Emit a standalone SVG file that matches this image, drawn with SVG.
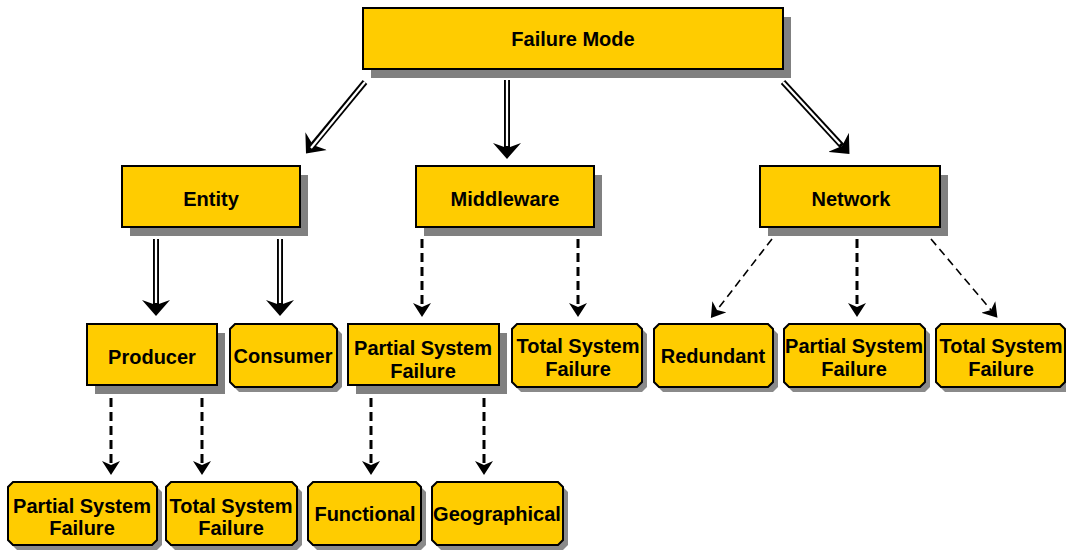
<svg xmlns="http://www.w3.org/2000/svg" width="1066" height="552" viewBox="0 0 1066 552">
  <style>
    .box { fill: #FFCC00; stroke: #000; stroke-width: 2; }
    .sh { fill: #808080; }
    .sh2 { fill: #8a8a8a; }
    .t { font-family: "Liberation Sans", Arial, sans-serif; font-weight: bold; font-size: 20px; fill: #000; text-anchor: middle; }
    .t2 { font-family: "Liberation Sans", Arial, sans-serif; font-weight: bold; font-size: 20px; fill: #000; text-anchor: middle; }
    .dbl-o { fill: none; stroke: #000; stroke-width: 6; }
    .dbl-i { fill: none; stroke: #fff; stroke-width: 2.2; }
    .dash { fill: none; stroke: #000; stroke-width: 3; stroke-dasharray: 9 5; }
    .dash-thin { fill: none; stroke: #000; stroke-width: 1.6; stroke-dasharray: 8 5; }
  </style>
  <defs>
    <marker id="headBig" markerUnits="userSpaceOnUse" markerWidth="18" markerHeight="28" viewBox="0 0 18 28" refX="5" refY="14" orient="auto">
      <path d="M0,0 L16,14 L0,28 L5,14 Z" fill="#000"/>
    </marker>
    <marker id="headSmall" markerUnits="userSpaceOnUse" markerWidth="14" markerHeight="18" viewBox="0 0 14 18" refX="4" refY="9" orient="auto">
      <path d="M0,0 L14,9 L0,18 L4,9 Z" fill="#000"/>
    </marker>
  </defs>

  <rect width="1066" height="552" fill="#fff"/>

  <!-- connectors -->
  <g id="connectors">
    <!-- root to level 2: double lines -->
    <path class="dbl-o" d="M365,82 L313,145" marker-end="url(#headBig)"/>
    <path class="dbl-i" d="M365,82 L311,148"/>
    <path class="dbl-o" d="M507,80 L507,148" marker-end="url(#headBig)"/>
    <path class="dbl-i" d="M507,80 L507,146"/>
    <path class="dbl-o" d="M783,82 L842,146" marker-end="url(#headBig)"/>
    <path class="dbl-i" d="M783,82 L840,144"/>

    <!-- Entity children: double lines -->
    <path class="dbl-o" d="M156,239 L156,305" marker-end="url(#headBig)"/>
    <path class="dbl-i" d="M156,239 L156,303"/>
    <path class="dbl-o" d="M280,239 L280,305" marker-end="url(#headBig)"/>
    <path class="dbl-i" d="M280,239 L280,303"/>

    <!-- Middleware children: dashed -->
    <path class="dash" d="M422,239 L422,307" marker-end="url(#headSmall)"/>
    <path class="dash" d="M578,239 L578,307" marker-end="url(#headSmall)"/>

    <!-- Network children -->
    <path class="dash-thin" d="M772,239 L717,310" marker-end="url(#headSmall)"/>
    <path class="dash" d="M857,239 L857,307" marker-end="url(#headSmall)"/>
    <path class="dash-thin" d="M931,239 L991,310" marker-end="url(#headSmall)"/>

    <!-- Producer children -->
    <path class="dash" d="M111,398 L111,465" marker-end="url(#headSmall)"/>
    <path class="dash" d="M202,398 L202,465" marker-end="url(#headSmall)"/>

    <!-- Partial System Failure (middleware) children -->
    <path class="dash" d="M371,398 L371,465" marker-end="url(#headSmall)"/>
    <path class="dash" d="M484,398 L484,465" marker-end="url(#headSmall)"/>
  </g>

  <!-- level 1 -->
  <g id="failure-mode">
    <rect class="sh" x="371" y="17" width="420" height="61"/>
    <rect class="box" x="363" y="8" width="420" height="61"/>
    <text class="t" x="573" y="46">Failure Mode</text>
  </g>

  <!-- level 2 -->
  <g id="entity">
    <rect class="sh" x="130" y="175" width="178" height="61"/>
    <rect class="box" x="122" y="166" width="178" height="61"/>
    <text class="t" x="211" y="206">Entity</text>
  </g>
  <g id="middleware">
    <rect class="sh" x="424" y="175" width="178" height="61"/>
    <rect class="box" x="416" y="166" width="178" height="61"/>
    <text class="t" x="505" y="206">Middleware</text>
  </g>
  <g id="network">
    <rect class="sh" x="768" y="175" width="180" height="61"/>
    <rect class="box" x="760" y="166" width="180" height="61"/>
    <text class="t" x="851" y="206">Network</text>
  </g>

  <!-- level 3 -->
  <g id="producer">
    <rect class="sh" x="95" y="333" width="130" height="61"/>
    <rect class="box" x="87" y="324" width="130" height="61"/>
    <text class="t" x="152" y="364">Producer</text>
  </g>
  <g id="consumer">
    <path class="sh2" d="M239,329 H337 L342,334 V387 L337,392 H239 L234,387 V334 Z"/>
    <path class="box" d="M235,324 H332 L337,329 V382 L332,387 H235 L230,382 V329 Z"/>
    <text class="t" x="283" y="363">Consumer</text>
  </g>
  <g id="mw-partial">
    <rect class="sh" x="356" y="333" width="151" height="61"/>
    <rect class="box" x="348" y="324" width="151" height="61"/>
    <text class="t2" x="423" y="355">Partial System</text>
    <text class="t2" x="423" y="378">Failure</text>
  </g>
  <g id="mw-total">
    <path class="sh2" d="M521,329 H642 L647,334 V387 L642,392 H521 L516,387 V334 Z"/>
    <path class="box" d="M517,324 H637 L642,329 V382 L637,387 H517 L512,382 V329 Z"/>
    <text class="t2" x="578" y="353">Total System</text>
    <text class="t2" x="578" y="376">Failure</text>
  </g>
  <g id="redundant">
    <path class="sh2" d="M663,329 H773 L778,334 V387 L773,392 H663 L658,387 V334 Z"/>
    <path class="box" d="M659,324 H768 L773,329 V382 L768,387 H659 L654,382 V329 Z"/>
    <text class="t" x="713" y="363">Redundant</text>
  </g>
  <g id="net-partial">
    <path class="sh2" d="M793,329 H925 L930,334 V387 L925,392 H793 L788,387 V334 Z"/>
    <path class="box" d="M789,324 H920 L925,329 V382 L920,387 H789 L784,382 V329 Z"/>
    <text class="t2" x="854" y="353">Partial System</text>
    <text class="t2" x="854" y="376">Failure</text>
  </g>
  <g id="net-total">
    <path class="sh2" d="M945,329 H1066 V392 H945 L940,387 V334 Z"/>
    <path class="box" d="M941,324 H1060 L1065,329 V382 L1060,387 H941 L936,382 V329 Z"/>
    <text class="t2" x="1001" y="353">Total System</text>
    <text class="t2" x="1001" y="376">Failure</text>
  </g>

  <!-- level 4 -->
  <g id="prod-partial">
    <path class="sh2" d="M17,487 H157 L162,492 V545 L157,550 H17 L12,545 V492 Z"/>
    <path class="box" d="M13,482 H152 L157,487 V540 L152,545 H13 L8,540 V487 Z"/>
    <text class="t2" x="82" y="513">Partial System</text>
    <text class="t2" x="82" y="535">Failure</text>
  </g>
  <g id="prod-total">
    <path class="sh2" d="M175,487 H297 L302,492 V545 L297,550 H175 L170,545 V492 Z"/>
    <path class="box" d="M171,482 H292 L297,487 V540 L292,545 H171 L166,540 V487 Z"/>
    <text class="t2" x="231" y="513">Total System</text>
    <text class="t2" x="231" y="535">Failure</text>
  </g>
  <g id="functional">
    <path class="sh2" d="M317,487 H421 L426,492 V545 L421,550 H317 L312,545 V492 Z"/>
    <path class="box" d="M313,482 H416 L421,487 V540 L416,545 H313 L308,540 V487 Z"/>
    <text class="t" x="365" y="521">Functional</text>
  </g>
  <g id="geographical">
    <path class="sh2" d="M441,487 H563 L568,492 V545 L563,550 H441 L436,545 V492 Z"/>
    <path class="box" d="M437,482 H558 L563,487 V540 L558,545 H437 L432,540 V487 Z"/>
    <text class="t" x="497" y="521">Geographical</text>
  </g>
</svg>
